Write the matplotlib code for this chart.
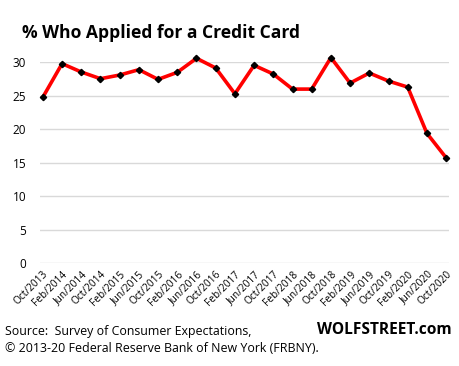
import matplotlib.pyplot as plt

# labels and values
dates = ['Oct/2013', 'Feb/2014', 'Jun/2014', 'Oct/2014', 'Feb/2015', 'Jun/2015',
         'Oct/2015', 'Feb/2016', 'Jun/2016', 'Oct/2016', 'Feb/2017', 'Jun/2017',
         'Oct/2017', 'Feb/2018', 'Jun/2018', 'Oct/2018', 'Feb/2019', 'Jun/2019',
         'Oct/2019', 'Feb/2020', 'Jun/2020', 'Oct/2020']
pct_applied = [24.8, 29.8, 28.55, 27.55, 28.1, 28.9, 27.45, 28.5, 30.6, 29.15, 25.3,
               29.55, 28.25, 26.0, 26.0, 30.7, 26.9, 28.4, 27.2, 26.3, 19.4, 15.75]
y_ticks = [0, 5, 10, 15, 20, 25, 30]

plt.rcParams['font.family'] = ['Open Sans', 'DejaVu Sans']

fig = plt.figure(figsize=(4.59, 3.66), dpi=100)
ax = fig.add_axes([40 / 459, 1 - 263.3 / 366, 409 / 459, 201 / 366])

x = list(range(len(dates)))
ax.plot(x, pct_applied, color='#ff0000', lw=2.6, marker='D', ms=3.2,
        mfc='black', mec='black', clip_on=False, zorder=3)

ax.set_ylim(0, 30)
ax.set_xlim(-0.15, len(dates) - 1 + 0.15)
ax.set_yticks(y_ticks)
ax.set_xticks(x)
ax.set_xticklabels(dates, rotation=45, ha='right', rotation_mode='anchor', fontsize=7.3)
ax.tick_params(axis='y', labelsize=8.5, length=0, pad=10)
ax.tick_params(axis='x', length=0, pad=4)
ax.grid(axis='y', color='#d9d9d9', lw=1)
ax.set_axisbelow(True)
for s in ax.spines.values():
    s.set_visible(False)

fig.text(22 / 459, 1 - 33 / 366, '% Who Applied for a Credit Card', fontsize=12.6,
         fontweight='bold', va='center', ha='left')
fig.text(5 / 459, 1 - 331 / 366, 'Source:  Survey of Consumer Expectations,',
         fontsize=8.9, va='center', ha='left')
fig.text(5 / 459, 1 - 348 / 366, '\u00a9 2013-20 Federal Reserve Bank of New York (FRBNY).',
         fontsize=8.9, va='center', ha='left')
fig.text(452 / 459, 1 - 330 / 366, 'WOLFSTREET.com', fontsize=11.2,
         fontweight='bold', va='center', ha='right')

fig.savefig('out.png', dpi=100)
